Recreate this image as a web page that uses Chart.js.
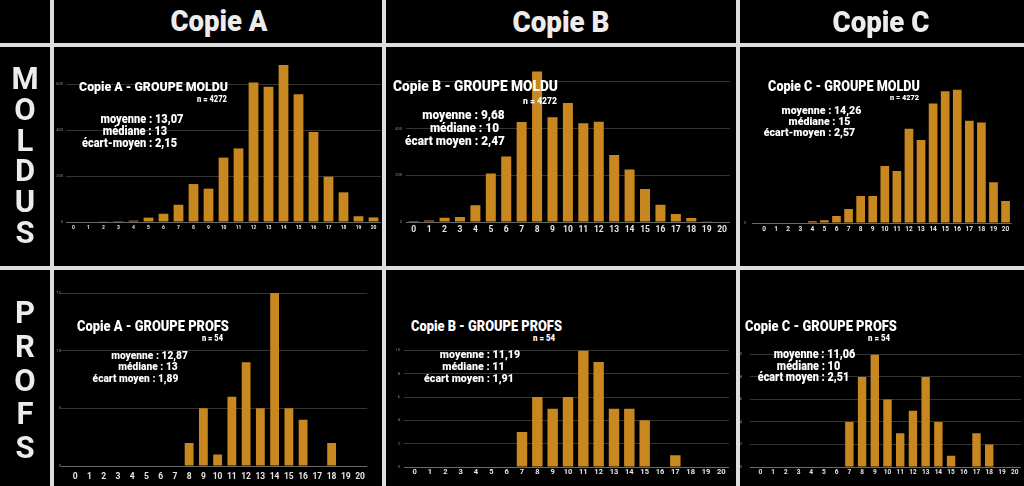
<!DOCTYPE html>
<html>
<head>
<meta charset="utf-8">
<script src="https://cdn.jsdelivr.net/npm/chart.js@4.4.1/dist/chart.umd.min.js"></script>
<style>
  html, body { margin:0; padding:0; background:#000; width:1024px; height:486px; overflow:hidden; }
  body { position:relative; font-family: Roboto, "Noto Sans", sans-serif; }
  canvas { position:absolute; }
  .line { position:absolute; background:#dedede; z-index:5; }
  .t { position:absolute; color:#fff; font-weight:900; white-space:nowrap; line-height:1; transform:translate(-50%,-50%) scaleY(1.1); z-index:3; }
  .h { position:absolute; color:#ececec; font-weight:900; line-height:1; transform:translate(-50%,-50%) scaleY(1.08); z-index:3; }
  .r { position:absolute; color:#ececec; font-weight:700; line-height:1; transform:translate(-50%,-50%); z-index:3; }
</style>
</head>
<body>
<script>
// ---- data ----
const scores = ['0','1','2','3','4','5','6','7','8','9','10','11','12','13','14','15','16','17','18','19','20'];
const moldusA = [0,0,3,4,6,19,36,75,165,145,280,320,606,588,683,555,391,197,129,25,20];
const moldusB = [4,6,18,21,72,208,280,428,644,448,509,422,429,287,225,141,74,34,17,3,2];
const moldusC = [2,2,0,2,7,12,29,59,113,113,239,218,395,348,501,553,559,429,422,171,92];
const profsA  = [0,0,0,0,0,0,0,0,2,5,1,6,9,5,15,5,4,0,2,0,0];
const profsB  = [0,0,0,0,0,0,0,3,6,5,6,10,9,5,5,4,0,1,0,0,0];
const profsC  = [0,0,0,0,0,0,0,4,8,10,6,3,5,8,4,1,0,3,2,0,0];
const columnHeaders = ['Copie A','Copie B','Copie C'];
const rowHeaders = ['MOLDUS','PROFS'];

const BAR = '#c8871f';

function measure(txt, cls) {
  const d = document.createElement('span');
  d.className = cls;
  d.style.transform = 'none';
  d.style.left = '0px'; d.style.top = '0px';
  d.style.visibility = 'hidden';
  d.style.fontSize = '20px';
  d.textContent = txt;
  document.body.appendChild(d);
  const w = d.getBoundingClientRect().width;
  d.remove();
  return w;
}
function fitSize(txt, w, cls) { return 20 * w / measure(txt, cls || 't'); }

function addText(txt, cx, cy, size, cls) {
  const d = document.createElement('div');
  d.className = cls || 't';
  d.textContent = txt;
  d.style.left = cx + 'px';
  d.style.top = cy + 'px';
  d.style.fontSize = size + 'px';
  document.body.appendChild(d);
}
function addLine(x, y, w, h) {
  const d = document.createElement('div');
  d.className = 'line';
  d.style.left = x + 'px'; d.style.top = y + 'px';
  d.style.width = w + 'px'; d.style.height = h + 'px';
  document.body.appendChild(d);
}

function makeChart(p) {
  const yw = 30, xh = 22, pt = 6;
  const top = p.baseline - p.max * p.pxPerUnit;
  const c = document.createElement('canvas');
  const w = p.right - p.left + yw;
  const h = p.baseline - top + pt + xh;
  c.width = Math.round(w); c.height = Math.round(h);
  c.style.width = Math.round(w) + 'px'; c.style.height = Math.round(h) + 'px';
  c.style.left = (p.left - yw) + 'px';
  c.style.top = (top - pt) + 'px';
  document.body.appendChild(c);
  new Chart(c, {
    type: 'bar',
    data: { labels: scores, datasets: [{ data: p.data, backgroundColor: BAR, borderWidth: 0,
      categoryPercentage: 1, barPercentage: p.barPct }] },
    options: {
      responsive: false, animation: false, devicePixelRatio: 1,
      layout: { padding: { top: pt, left: 0, right: 0, bottom: 0 } },
      plugins: { legend: { display: false }, tooltip: { enabled: false } },
      scales: {
        x: {
          afterFit: s => { s.height = xh; },
          grid: { display: false, drawTicks: false },
          border: { display: false },
          ticks: { color: '#e6e6e6', font: { family: 'Roboto', size: p.xFont, weight: 'bold' }, padding: p.xPad, maxRotation: 0, autoSkip: false }
        },
        y: {
          min: 0, max: p.max,
          afterFit: s => { s.width = yw; },
          afterBuildTicks: s => { s.ticks = s.ticks.filter(t => t.value % p.step === 0); },
          grid: { color: ctx => (ctx.tick && ctx.tick.value === 0) ? '#6a6a6a' : '#343434', lineWidth: 1, drawTicks: p.tl > 0, tickLength: p.tl },
          border: { display: false },
          ticks: { stepSize: p.step, color: '#8a8a8a', font: { family: 'Roboto', size: 4 }, padding: p.yPad }
        }
      }
    }
  });
  [p.title, p.n].forEach(t => {
    addText(t[0], (t[1] + t[2]) / 2, t[3], fitSize(t[0], t[2] - t[1]));
  });
  const sizes = p.stats.map(t => fitSize(t[0], t[2] - t[1]));
  const s = sizes.reduce((a, b) => a + b, 0) / sizes.length;
  p.stats.forEach(t => addText(t[0], (t[1] + t[2]) / 2, t[3], s));
}

const panels = [
  { data: moldusA, left: 65.5, right: 380.5, baseline: 222, pxPerUnit: 0.23, max: 700, step: 200,
    barPct: 0.65, xFont: 5, xPad: 3, tl: 0, yPad: 3,
    title: ['Copie A - GROUPE MOLDU', 79, 228, 87], n: ['n = 4272', 197, 227, 100],
    stats: [['moyenne : 13,07', 100, 184, 119], ['médiane : 13', 103, 167, 131], ['écart-moyen : 2,15', 82, 177, 143]] },
  { data: moldusB, left: 405.6, right: 729.4, baseline: 221.7, pxPerUnit: 0.2345, max: 700, step: 200,
    barPct: 0.65, xFont: 8.5, xPad: 3, tl: 0, yPad: 4,
    title: ['Copie B - GROUPE MOLDU', 393, 558, 86], n: ['n = 4272', 523, 557, 100.5],
    stats: [['moyenne : 9,68', 424, 503, 116], ['médiane : 10', 427, 502, 129.3], ['écart moyen : 2,47', 407, 503, 141.7]] },
  { data: moldusC, left: 758, right: 1012, baseline: 222.7, pxPerUnit: 0.2415, max: 640, step: 200,
    barPct: 0.72, xFont: 6.5, xPad: 2.7, tl: 6, yPad: 6,
    title: ['Copie C - GROUPE MOLDU', 768, 920, 86.7], n: ['n = 4272', 890, 919, 97],
    stats: [['moyenne : 14,26', 782, 861, 111], ['médiane : 15', 788, 851, 122.3], ['écart-moyen : 2,57', 764, 855, 133.3]] },
  { data: profsA, left: 67.8, right: 370.5, baseline: 466, pxPerUnit: 11.52, max: 15, step: 5,
    barPct: 0.62, xFont: 8.5, xPad: 6, tl: 7, yPad: 0,
    title: ['Copie A - GROUPE PROFS', 77, 229, 326.7], n: ['n = 54', 202, 223, 339.3],
    stats: [['moyenne : 12,87', 106, 193, 356], ['médiane : 13', 124, 172, 367.3], ['écart moyen : 1,89', 90, 181, 379]] },
  { data: profsB, left: 406.6, right: 728.7, baseline: 466.7, pxPerUnit: 11.67, max: 10, step: 2,
    barPct: 0.68, xFont: 7.5, xPad: 0.5, tl: 3, yPad: 4,
    title: ['Copie B - GROUPE PROFS', 411, 562, 326.7], n: ['n = 54', 533, 555, 339.3],
    stats: [['moyenne : 11,19', 439, 521, 355], ['médiane : 11', 443, 504, 366.7], ['écart moyen : 1,91', 424, 514, 378.7]] },
  { data: profsC, left: 753.6, right: 1020.4, baseline: 466.7, pxPerUnit: 11.67, max: 10, step: 2,
    barPct: 0.66, xFont: 6.5, xPad: 1.7, tl: 4, yPad: 8,
    title: ['Copie C - GROUPE PROFS', 745, 897, 326.7], n: ['n = 54', 868, 890, 339.3],
    stats: [['moyenne : 11,06', 774, 855, 355], ['médiane : 10', 777, 840, 366.7], ['écart moyen : 2,51', 757, 850, 378.3]] }
];

panels.forEach(makeChart);

addLine(49.5, 0, 4, 486);
addLine(382, 0, 4, 486);
addLine(736, 0, 4, 486);
addLine(0, 43, 1024, 4);
addLine(0, 266, 1024, 4);

const colCenters = [219, 561, 881];
columnHeaders.forEach((h, i) => addText(h, colCenters[i], 22, fitSize(h, 97, 'h'), 'h'));
const rowStarts = [78, 312], rowPitch = [30.8, 33.8];
rowHeaders.forEach((word, r) => {
  [...word].forEach((ch, k) => addText(ch, 25, rowStarts[r] + k * rowPitch[r], 31, 'r'));
});
</script>
</body>
</html>
